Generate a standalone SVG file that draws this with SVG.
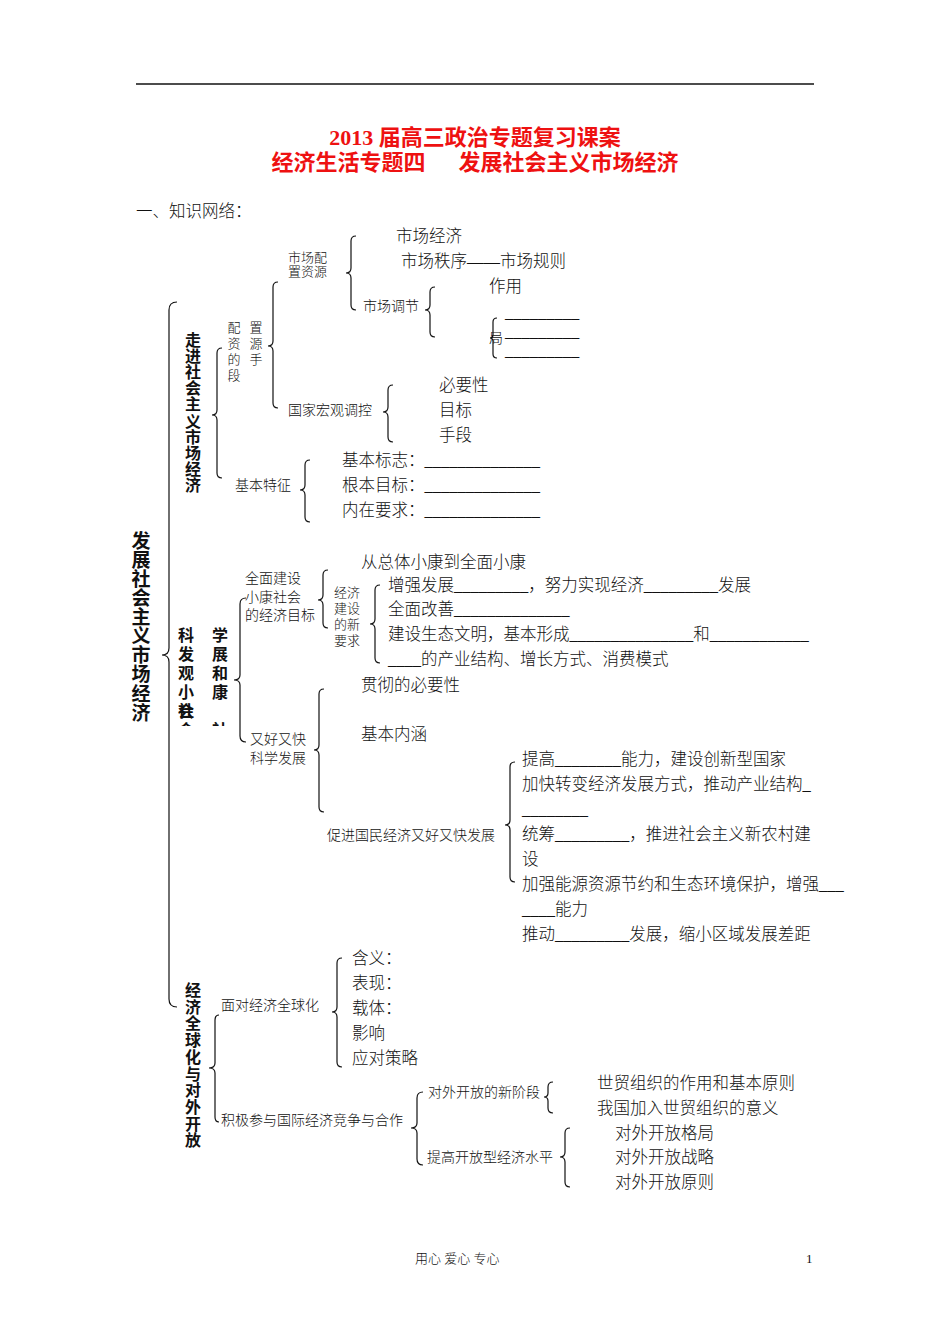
<svg xmlns="http://www.w3.org/2000/svg" width="950" height="1344" viewBox="0 0 950 1344">
<style>
text{font-family:"Liberation Serif","Noto Sans CJK SC",serif;fill:#111;}
.t{font-size:16.5px;font-weight:300;}
.s{font-size:14px;font-weight:300;}
.xs{font-size:13px;font-weight:300;}
.vt{font-family:"Noto Sans CJK SC",sans-serif;writing-mode:vertical-rl;}
.v{font-family:"Noto Sans CJK SC",sans-serif;font-size:16px;font-weight:700;writing-mode:vertical-rl;}
.vb{font-family:"Noto Sans CJK SC",sans-serif;font-size:19px;font-weight:700;writing-mode:vertical-rl;}
.title{font-size:22px;font-weight:700;fill:#ee1111;text-anchor:middle;}
.br{fill:none;stroke:#111;stroke-width:1.2;}
</style>
<defs>
<clipPath id="c1"><rect x="170" y="718" width="70" height="8"/></clipPath>
</defs>
<rect width="950" height="1344" fill="#fff"/>
<line x1="136" y1="84" x2="814" y2="84" stroke="#111" stroke-width="1.3"/>
<g id="title">
<text class="title" x="475" y="145">2013 届高三政治专题复习课案</text>
<text class="title" x="475" y="170" xml:space="preserve">经济生活专题四      发展社会主义市场经济</text>
<text class="t" x="136" y="217">一、知识网络：</text>
</g>
<g id="connectors">
<path class="br" d="M177,302 Q169,302 169,310 L169,648 Q169,655 162,655 Q169,655 169,662 L169,999 Q169,1007 177,1007"/>
<path class="br" d="M222,348 Q217,348 217,353 L217,410 Q217,415 212,415 Q217,415 217,420 L217,473 Q217,478 222,478"/>
<path class="br" d="M278,282 Q273,282 273,287 L273,341 Q273,346 268,346 Q273,346 273,351 L273,403 Q273,408 278,408"/>
<path class="br" d="M356,236 Q351,236 351,241 L351,268 Q351,273 346,273 Q351,273 351,278 L351,305 Q351,310 356,310"/>
<path class="br" d="M435,287 Q430,287 430,292 L430,305 Q430,310 425,310 Q430,310 430,315 L430,332 Q430,337 435,337"/>
<path class="br" d="M497,318 Q493,318 493,322 L493,335 Q493,338 490,338 Q493,338 493,341 L493,354 Q493,358 497,358"/>
<path class="br" d="M393,385 Q388,385 388,390 L388,407 Q388,412 383,412 Q388,412 388,417 L388,437 Q388,442 393,442"/>
<path class="br" d="M310,460 Q305,460 305,465 L305,485 Q305,490 300,490 Q305,490 305,495 L305,517 Q305,522 310,522"/>
<path class="br" d="M246,598 Q240,598 240,604 L240,675 Q240,680 234,680 Q240,680 240,685 L240,736 Q240,742 246,742"/>
<path class="br" d="M328,570 Q323,570 323,575 L323,595 Q323,600 318,600 Q323,600 323,605 L323,623 Q323,628 328,628"/>
<path class="br" d="M380,585 Q375,585 375,590 L375,619 Q375,624 370,624 Q375,624 375,629 L375,658 Q375,663 380,663"/>
<path class="br" d="M324,689 Q319,689 319,694 L319,745 Q319,750 314,750 Q319,750 319,755 L319,807 Q319,812 324,812"/>
<path class="br" d="M515,762 Q510,762 510,767 L510,820 Q510,825 505,825 Q510,825 510,830 L510,877 Q510,882 515,882"/>
<path class="br" d="M219,1015 Q215,1015 215,1020 L215,1063 Q215,1068 209,1068 Q215,1068 215,1073 L215,1117 Q215,1122 219,1122"/>
<path class="br" d="M342,958 Q337,958 337,963 L337,1007 Q337,1012 332,1012 Q337,1012 337,1017 L337,1062 Q337,1067 342,1067"/>
<path class="br" d="M423,1092 Q417,1092 417,1098 L417,1123 Q417,1128 411,1128 Q417,1128 417,1133 L417,1159 Q417,1165 423,1165"/>
<path class="br" d="M553,1082 Q548,1082 548,1087 L548,1093 Q548,1097 544,1097 Q548,1097 548,1101 L548,1108 Q548,1113 553,1113"/>
<path class="br" d="M570,1128 Q565,1128 565,1133 L565,1152 Q565,1157 560,1157 Q565,1157 565,1162 L565,1182 Q565,1187 570,1187"/>
</g>
<g id="root">
<text class="vb" x="141" y="531" letter-spacing="0.1">发展社会主义市场经济</text>
</g>
<g id="n-zoujin">
<text class="v" x="193" y="332" letter-spacing="0.1">走进社会主义市场经济</text>
</g>
<g id="n-peizhi">
<text class="vt" x="234" y="321" font-size="13" font-weight="300" letter-spacing="3">配资的段</text>
<text class="vt" x="256" y="321" font-size="13" font-weight="300" letter-spacing="3">置源手</text>
</g>
<g id="n-shichangpeizhi">
<text class="xs"><tspan x="288" y="262">市场配</tspan><tspan x="288" y="276">置资源</tspan></text>
</g>
<g id="n-shichangjingji"><text class="t" x="396" y="242">市场经济</text></g>
<g id="n-zhixu"><text class="t" x="401" y="267">市场秩序——市场规则</text></g>
<g id="n-tiaojie"><text class="s" x="363" y="311">市场调节</text></g>
<g id="n-zuoyong"><text class="t" x="489" y="292">作用</text></g>
<g id="n-ju">
<text class="s" x="489" y="343">局</text>
<text class="t"><tspan x="505" y="318">_________</tspan><tspan x="505" y="337">_________</tspan><tspan x="505" y="356">_________</tspan></text>
</g>
<g id="n-hongguan"><text class="s" x="288" y="415">国家宏观调控</text></g>
<g id="n-hongguan-items">
<text class="t" x="439" y="391">必要性</text>
<text class="t" x="439" y="416">目标</text>
<text class="t" x="439" y="441">手段</text>
</g>
<g id="n-tezheng"><text class="s" x="235" y="490">基本特征</text></g>
<g id="n-tezheng-items">
<text class="t" x="342" y="466">基本标志：______________</text>
<text class="t" x="342" y="491">根本目标：______________</text>
<text class="t" x="342" y="516">内在要求：______________</text>
</g>
<g id="n-kexue">
<text class="v" x="186" y="627" letter-spacing="3">科发观小社</text>
<text class="v" x="186" y="703">会</text>
<text class="v" x="220" y="627" letter-spacing="3">学展和康</text>
<g clip-path="url(#c1)"><text class="v" x="186" y="722">会</text><text class="v" x="220" y="722">社</text></g>
</g>
<g id="n-xiaokang"><text class="s"><tspan x="245" y="583">全面建设</tspan><tspan x="245" y="602">小康社会</tspan><tspan x="245" y="620">的经济目标</tspan></text></g>
<g id="n-congzongti"><text class="t" x="361" y="568">从总体小康到全面小康</text></g>
<g id="n-xinyaoqiu"><text class="xs"><tspan x="334" y="597">经济</tspan><tspan x="334" y="613">建设</tspan><tspan x="334" y="629">的新</tspan><tspan x="334" y="645">要求</tspan></text></g>
<g id="n-xinyaoqiu-items">
<text class="t" x="388" y="591">增强发展_________，努力实现经济_________发展</text>
<text class="t" x="388" y="615">全面改善______________</text>
<text class="t" x="388" y="640">建设生态文明，基本形成_______________和____________</text>
<text class="t" x="388" y="665">____的产业结构、增长方式、消费模式</text>
</g>
<g id="n-haokuai"><text class="s"><tspan x="250" y="744">又好又快</tspan><tspan x="250" y="763">科学发展</tspan></text></g>
<g id="n-biyao"><text class="t" x="361" y="691">贯彻的必要性</text></g>
<g id="n-neihan"><text class="t" x="361" y="740">基本内涵</text></g>
<g id="n-cujin"><text class="s" x="327" y="840">促进国民经济又好又快发展</text></g>
<g id="n-cujin-items">
<text class="t" x="522" y="765">提高________能力，建设创新型国家</text>
<text class="t" x="522" y="790">加快转变经济发展方式，推动产业结构_</text>
<text class="t" x="522" y="815">________</text>
<text class="t" x="522" y="840">统筹_________，推进社会主义新农村建</text>
<text class="t" x="522" y="865">设</text>
<text class="t" x="522" y="890">加强能源资源节约和生态环境保护，增强___</text>
<text class="t" x="522" y="915">____能力</text>
<text class="t" x="522" y="940">推动_________发展，缩小区域发展差距</text>
</g>
<g id="n-quanqiuhua">
<text class="v" x="193" y="982" letter-spacing="0.7">经济全球化与对外开放</text>
</g>
<g id="n-miandui"><text class="s" x="221" y="1010">面对经济全球化</text></g>
<g id="n-miandui-items">
<text class="t" x="352" y="964">含义：</text>
<text class="t" x="352" y="989">表现：</text>
<text class="t" x="352" y="1014">载体：</text>
<text class="t" x="352" y="1039">影响</text>
<text class="t" x="352" y="1064">应对策略</text>
</g>
<g id="n-jiji"><text class="s" x="221" y="1125">积极参与国际经济竞争与合作</text></g>
<g id="n-xinjieduan"><text class="s" x="428" y="1097">对外开放的新阶段</text></g>
<g id="n-xinjieduan-items">
<text class="t" x="597" y="1089">世贸组织的作用和基本原则</text>
<text class="t" x="597" y="1114">我国加入世贸组织的意义</text>
</g>
<g id="n-tigao"><text class="s" x="427" y="1162">提高开放型经济水平</text></g>
<g id="n-tigao-items">
<text class="t" x="615" y="1139">对外开放格局</text>
<text class="t" x="615" y="1163">对外开放战略</text>
<text class="t" x="615" y="1188">对外开放原则</text>
</g>
<g id="footer">
<text class="xs" x="415" y="1263">用心 爱心 专心</text>
<text class="xs" x="806" y="1263">1</text>
</g>
</svg>
